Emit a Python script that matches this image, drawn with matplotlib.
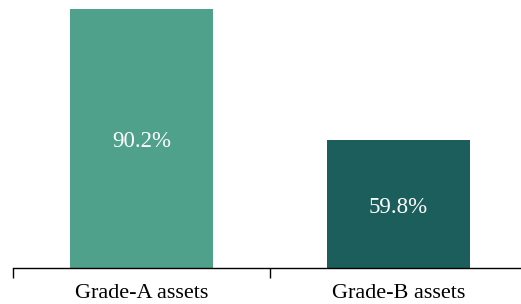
import matplotlib.pyplot as plt
from matplotlib.ticker import FixedLocator

categories = ['Grade-A assets', 'Grade-B assets']
values = [90.2, 59.8]
colors = ['#4fa18c', '#1b5e5c']

plt.rcParams['font.family'] = ['Liberation Serif', 'DejaVu Serif']

fig = plt.figure(figsize=(5.21, 3.04), dpi=100)
ax = fig.add_axes([13 / 521, 36 / 304, 508 / 521, 268 / 304])

x = list(range(len(categories)))
bars = ax.bar(x, values, width=0.556, color=colors)

for b, v in zip(bars, values):
    ax.annotate('%.1f%%' % v, (b.get_x() + b.get_width() / 2, (30 + v) / 2),
                xytext=(0, -2.5), textcoords='offset points',
                ha='center', va='center', color='white', fontsize=16.5)

ax.set_ylim(30, 92.3)
ax.set_xlim(-0.5, -0.5 + 508 / 257)

ax.set_xticks(x)
ax.set_xticklabels(categories, fontsize=16)
ax.tick_params(axis='x', which='major', length=0, pad=11.5)
ax.xaxis.set_minor_locator(FixedLocator([-0.5, 0.5]))
ax.tick_params(axis='x', which='minor', length=7, width=1, direction='out')

ax.set_yticks([])
for s in ['top', 'right', 'left']:
    ax.spines[s].set_visible(False)
ax.spines['bottom'].set_linewidth(1)

plt.savefig('out.png', dpi=100)
